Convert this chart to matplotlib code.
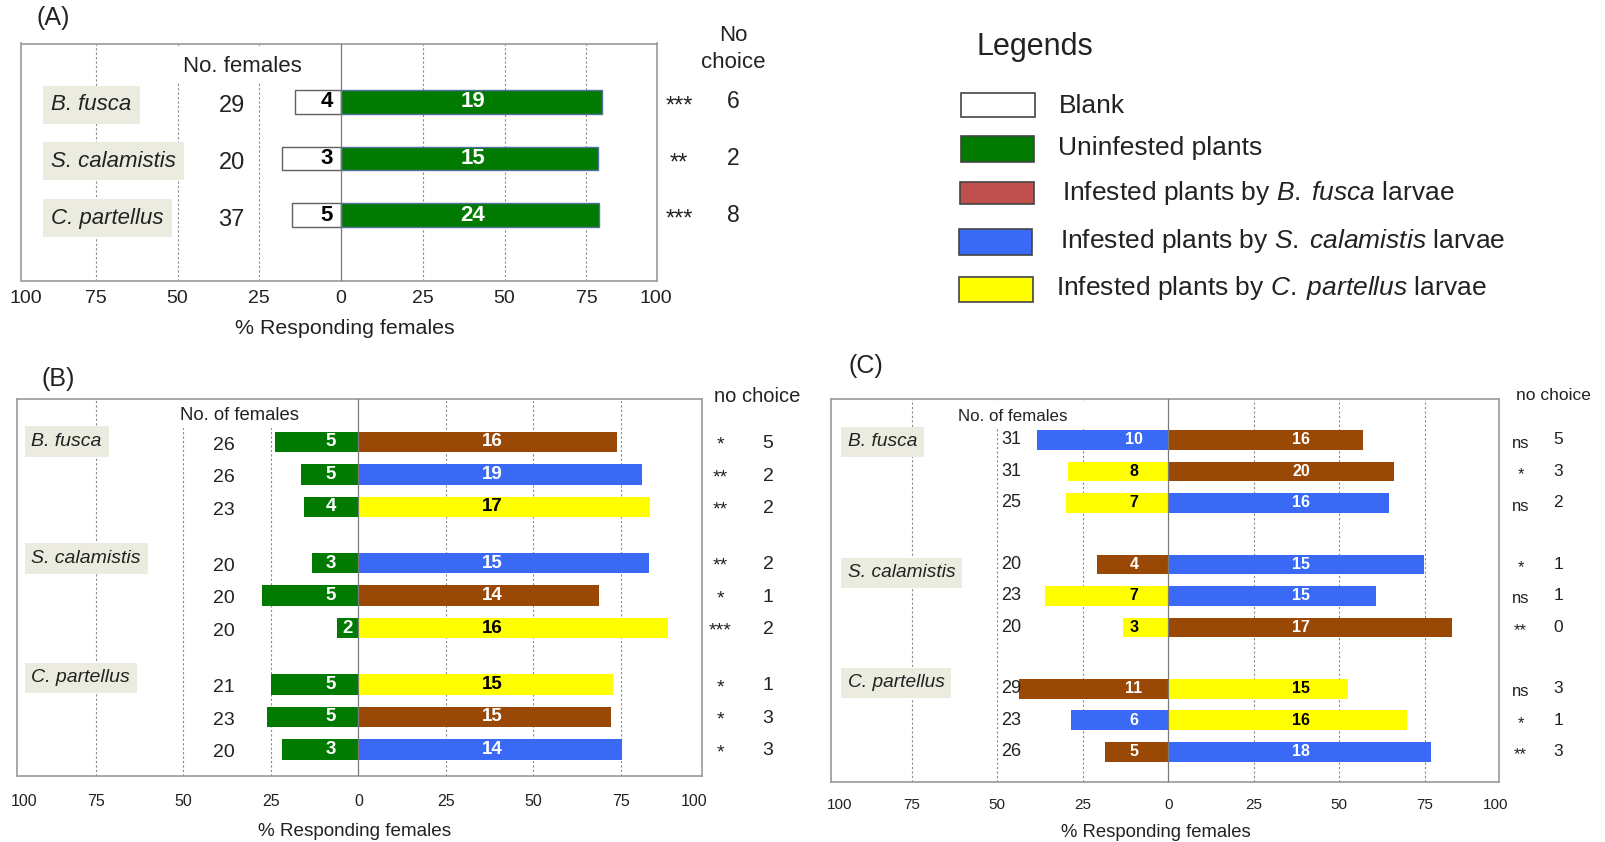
import numpy as np
import matplotlib
matplotlib.use("Agg")
import matplotlib.pyplot as plt
from matplotlib.patches import Rectangle
from matplotlib import transforms

plt.rcParams['font.family'] = ['Liberation Sans', 'DejaVu Sans']
plt.rcParams['mathtext.fontset'] = 'custom'
plt.rcParams['mathtext.rm'] = 'Liberation Sans'
plt.rcParams['mathtext.it'] = 'Liberation Sans:italic'

# --- data ---
species = ['B. fusca', 'S. calamistis', 'C. partellus']
tick_labels = ['100', '75', '50', '25', '0', '25', '50', '75', '100']

# (A) blank vs uninfested plants
a_n = [29, 20, 37]
a_blank = [4, 3, 5]
a_green = [19, 15, 24]
a_blank_pct = [14.1, 18.0, 14.9]
a_green_pct = [79.7, 78.7, 78.9]
a_sig = ['***', '**', '***']
a_nochoice = [6, 2, 8]

# (B) uninfested (left) vs infested (right)
b_n = [26, 26, 23, 20, 20, 20, 21, 23, 20]
b_left = [5, 5, 4, 3, 5, 2, 5, 5, 3]
b_right = [16, 19, 17, 15, 14, 16, 15, 15, 14]
b_left_pct = [23.8, 16.4, 15.6, 13.2, 27.6, 6.1, 24.9, 26.0, 21.8]
b_right_pct = [73.8, 81.0, 83.3, 83.1, 68.9, 88.4, 72.7, 72.1, 75.3]
b_right_kind = ['bf', 'sc', 'cp', 'sc', 'bf', 'cp', 'cp', 'bf', 'sc']
b_sig = ['*', '**', '**', '**', '*', '***', '*', '*', '*']
b_nochoice = [5, 2, 2, 2, 1, 2, 1, 3, 3]

# (C) infested vs infested
c_n = [31, 31, 25, 20, 23, 20, 29, 23, 26]
c_left = [10, 8, 7, 4, 7, 3, 11, 6, 5]
c_right = [16, 20, 16, 15, 15, 17, 15, 16, 18]
c_left_pct = [38.3, 29.2, 29.9, 20.9, 36.1, 13.2, 43.7, 28.5, 18.5]
c_right_pct = [56.8, 66.1, 64.5, 74.9, 60.8, 83.0, 52.7, 69.8, 76.8]
c_left_kind = ['sc', 'cp', 'cp', 'bf', 'cp', 'cp', 'bf', 'sc', 'bf']
c_right_kind = ['bf', 'bf', 'sc', 'sc', 'sc', 'bf', 'cp', 'cp', 'sc']
c_sig = ['ns', '*', 'ns', '*', 'ns', '**', 'ns', '*', '**']
c_nochoice = [5, 3, 2, 1, 1, 0, 3, 1, 3]

legend_kinds = ['blank', 'un', 'bf_leg', 'sc', 'cp']
legend_labels = ['Blank', 'Uninfested plants',
                 r'Infested plants by $\mathit{B.\;fusca}$ larvae',
                 r'Infested plants by $\mathit{S.\;calamistis}$ larvae',
                 r'Infested plants by $\mathit{C.\;partellus}$ larvae']

colors = {'blank': 'white', 'un': '#007a00', 'bf': '#9a4806', 'bf_leg': '#c0504d',
          'sc': '#3a6af5', 'cp': '#ffff00'}
txt_col = {'blank': 'black', 'un': 'white', 'bf': 'white', 'sc': 'white', 'cp': 'black'}
ink = '#222222'

W, H = 1606, 842
fig = plt.figure(figsize=(W / 100, H / 100), dpi=100)


def px_rect(l, r, t, b):
    return [l / W, 1 - b / H, (r - l) / W, (b - t) / H]


def make_panel(rect, xlim, ylim, ticks, tick_fs, tick_pad):
    ax = fig.add_axes(rect)
    ax.set_xlim(*xlim)
    ax.set_ylim(*ylim)
    for v in (-75, -50, -25, 25, 50, 75):
        ax.axvline(v, color='#8a8a8a', lw=0.8, ls=(0, (2, 2)), zorder=0)
    ax.axvline(0, color='#7a7a7a', lw=0.9, zorder=4)
    ax.set_xticks(ticks, tick_labels)
    ax.set_yticks([])
    ax.tick_params(axis='x', length=0, pad=tick_pad, labelsize=tick_fs, colors=ink)
    for s in ax.spines.values():
        s.set_color('#9a9a9a')
        s.set_linewidth(1.2)
    return ax


def side_text(ax, xs, ys, labels, **kw):
    tr = transforms.blended_transform_factory(ax.transAxes, ax.transData)
    for y, s in zip(ys, labels):
        ax.text(xs, y, s, transform=tr, clip_on=False, va='center', ha='center', **kw)


def species_boxes(ax, x, ys, fs, pad):
    tr = transforms.blended_transform_factory(ax.transAxes, ax.transData)
    for y, s in zip(ys, species):
        ax.text(x, y, s, transform=tr, style='italic', fontsize=fs, va='center', ha='left',
                color=ink, zorder=5,
                bbox=dict(boxstyle=f'square,pad={pad}', fc='#ecebdf', ec='none'))


# ---------------- panel A ----------------
rows_a = np.arange(3)
ax_a = make_panel(px_rect(21.5, 656.7, 43.5, 281), (-97.7, 96.5), (3.16, -1.03),
                  [-96.5, -75, -50, -25, 0, 25, 50, 75, 96.1], 14, 6.5)
ax_a.barh(rows_a, -np.array(a_blank_pct), height=0.42, color=colors['blank'],
          edgecolor='#606060', lw=1, zorder=2)
ax_a.barh(rows_a, a_green_pct, height=0.42, color=colors['un'],
          edgecolor='#5470a0', lw=1, zorder=2)
for y, nb, ng in zip(rows_a, a_blank, a_green):
    ax_a.text(-2.5, y, str(nb), ha='right', va='center', fontsize=16, fontweight='bold',
              color='black', zorder=6)
    ax_a.text(40.3, y, str(ng), ha='center', va='center', fontsize=16, fontweight='bold',
              color='white', zorder=6)
species_boxes(ax_a, 0.0464, rows_a + 0.05, 16, 0.38)
side_text(ax_a, 0.331, rows_a + 0.08, [str(v) for v in a_n], fontsize=17, color=ink)
side_text(ax_a, 1.035, rows_a + 0.08, a_sig, fontsize=17, color=ink)
side_text(ax_a, 1.120, rows_a, [str(v) for v in a_nochoice], fontsize=16.5, color=ink)

# ---------------- panel B ----------------
rows_b = np.arange(9) + np.repeat([0, 1, 2], 3) * 0.73
ax_b = make_panel(px_rect(16.7, 701.7, 399, 776), (-97.6, 98.1), (10.28, -1.32),
                  [-95.6, -75, -50, -25, 0, 25, 50, 75, 96], 11.5, 13)
ax_b.barh(rows_b, -np.array(b_left_pct), height=0.63, color=colors['un'], zorder=2)
ax_b.barh(rows_b, b_right_pct, height=0.63, color=[colors[k] for k in b_right_kind], zorder=2)
for y, nl, pl, nr, k in zip(rows_b, b_left, b_left_pct, b_right, b_right_kind):
    xl = -7.8 if pl > 10 else -pl / 2
    ax_b.text(xl, y, str(nl), ha='center', va='center', fontsize=13.5, fontweight='bold',
              color='white', zorder=6)
    ax_b.text(38.3, y, str(nr), ha='center', va='center', fontsize=13.5, fontweight='bold',
              color=txt_col[k], zorder=6)
species_boxes(ax_b, 0.0216, [-0.02, 3.58, 7.26], 14, 0.35)
side_text(ax_b, 0.3026, rows_b + 0.1, [str(v) for v in b_n], fontsize=14, color=ink)
side_text(ax_b, 1.0267, rows_b + 0.1, b_sig, fontsize=14, color=ink)
side_text(ax_b, 1.0968, rows_b + 0.05, [str(v) for v in b_nochoice], fontsize=14, color=ink)

# ---------------- panel C ----------------
rows_c = np.arange(9) + np.repeat([0, 1, 2], 3) * 0.95
ax_c = make_panel(px_rect(830.6, 1499, 399.3, 782.3), (-98.7, 96.7), (10.87, -1.29),
                  [-96, -75, -50, -25, 0, 25, 50, 75, 95.7], 11, 11.5)
ax_c.barh(rows_c, -np.array(c_left_pct), height=0.62,
          color=[colors[k] for k in c_left_kind], zorder=2)
ax_c.barh(rows_c, c_right_pct, height=0.62,
          color=[colors[k] for k in c_right_kind], zorder=2)
for y, nl, kl, nr, kr in zip(rows_c, c_left, c_left_kind, c_right, c_right_kind):
    ax_c.text(-10, y, str(nl), ha='center', va='center', fontsize=11.5, fontweight='bold',
              color=txt_col[kl], zorder=6)
    ax_c.text(38.8, y, str(nr), ha='center', va='center', fontsize=11.5, fontweight='bold',
              color=txt_col[kr], zorder=6)
species_boxes(ax_c, 0.0256, [0.06, 4.22, 7.71], 13.8, 0.35)
side_text(ax_c, 0.2708, rows_c, [str(v) for v in c_n], fontsize=13, color=ink)
side_text(ax_c, 1.0325, rows_c + 0.1, c_sig, fontsize=12, color=ink)
side_text(ax_c, 1.0885, rows_c, [str(v) for v in c_nochoice], fontsize=12.5, color=ink)

# ---------------- overlay: headers, labels, legend ----------------
ov = fig.add_axes([0, 0, 1, 1])
ov.set_xlim(0, W)
ov.set_ylim(H, 0)
ov.axis('off')
ov.patch.set_visible(False)

# white boxes behind the "No. of females" headers
for l, r, t, b in [(173, 312, 47, 82), (164, 318, 401, 428), (938.5, 1089.8, 401.7, 428.3)]:
    ov.add_patch(Rectangle((l, t), r - l, b - t, facecolor='white', edgecolor='none'))

ov.text(242.6, 66.6, 'No. females', ha='center', va='center', fontsize=16, color=ink)
ov.text(239.6, 415, 'No. of females', ha='center', va='center', fontsize=13.3, color=ink)
ov.text(1012.4, 416.7, 'No. of females', ha='center', va='center', fontsize=12.2, color=ink)

ov.text(733.3, 35.8, 'No', ha='center', va='center', fontsize=16, color=ink)
ov.text(733.3, 62.5, 'choice', ha='center', va='center', fontsize=16, color=ink)
ov.text(757, 397, 'no choice', ha='center', va='center', fontsize=14.5, color=ink)
ov.text(1553, 395, 'no choice', ha='center', va='center', fontsize=12.5, color=ink)

ov.text(53, 18.4, '(A)', ha='center', va='center', fontsize=18, color=ink)
ov.text(57.9, 379, '(B)', ha='center', va='center', fontsize=18, color=ink)
ov.text(865.4, 365.6, '(C)', ha='center', va='center', fontsize=18, color=ink)

ov.text(345, 328.5, '% Responding females', ha='center', va='center', fontsize=15.4, color=ink)
ov.text(355, 831.5, '% Responding females', ha='center', va='center', fontsize=13.6, color=ink)
ov.text(1156, 832.5, '% Responding females', ha='center', va='center', fontsize=13.3, color=ink)

# legend
ov.text(1035, 46.7, 'Legends', ha='center', va='center', fontsize=22, color=ink)
sw_boxes = [(961.2, 1035.4, 92.7, 117.3), (961.2, 1034.2, 136.3, 162),
            (960.4, 1034.2, 182, 204.3), (959.2, 1032.3, 229.3, 255.3),
            (959.2, 1033, 276.7, 301.7)]
txt_pos = [(1058.5, 106), (1057.7, 148.3), (1062.3, 193), (1060.4, 241), (1056.5, 288)]
for (l, r, t, b), k, lab, (tx, ty) in zip(sw_boxes, legend_kinds, legend_labels, txt_pos):
    ov.add_patch(Rectangle((l, t), r - l, b - t, facecolor=colors[k],
                           edgecolor='#444444', lw=1.2))
    ov.text(tx, ty, lab, ha='left', va='center', fontsize=19, color=ink)

fig.savefig('out.png', dpi=100)
